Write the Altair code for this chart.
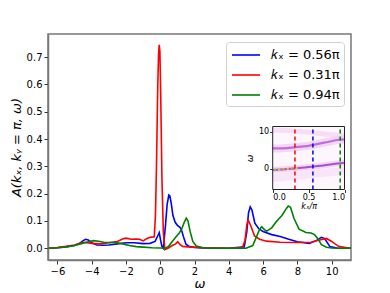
import altair as alt
import pandas as pd

# ---------------- main spectra ----------------
labels = ["𝑘ₓ = 0.56π", "𝑘ₓ = 0.31π", "𝑘ₓ = 0.94π"]
colors = ["#0000ff", "#ff0000", "#008000"]

w_blue = [-6.5, -6.0, -5.5, -5.0, -4.7, -4.5, -4.35, -4.2, -4.0, -3.7, -3.3, -3.0, -2.5, -2.0, -1.5, -1.0,
          -0.6, -0.3, -0.15, -0.06, 0.02, 0.1, 0.18, 0.3, 0.4, 0.5, 0.56, 0.64, 0.74, 0.87, 1.0, 1.15, 1.25,
          1.35, 1.5, 1.7, 2.0, 2.5, 3.0, 4.0, 4.9, 5.05, 5.15, 5.25, 5.35, 5.52, 5.75, 6.0, 6.5, 7.0, 7.5,
          8.0, 8.7, 9.1, 9.4, 9.6, 9.9, 10.3, 11.2]
A_blue = [0.0, 0.002, 0.005, 0.01, 0.018, 0.028, 0.033, 0.03, 0.02, 0.012, 0.011, 0.012, 0.016, 0.02, 0.02,
          0.017, 0.018, 0.025, 0.045, 0.057, 0.03, 0.006, 0.0, 0.08, 0.16, 0.195, 0.192, 0.165, 0.12, 0.095,
          0.084, 0.077, 0.065, 0.043, 0.015, 0.006, 0.003, 0.001, 0.001, 0.0, 0.005, 0.06, 0.13, 0.152, 0.14,
          0.092, 0.072, 0.061, 0.05, 0.043, 0.033, 0.024, 0.018, 0.028, 0.04, 0.035, 0.006, 0.001, 0.0]

w_red = [-6.5, -6.0, -5.5, -5.0, -4.5, -4.0, -3.5, -3.0, -2.5, -2.2, -2.0, -1.7, -1.4, -1.2, -1.0, -0.8,
         -0.6, -0.35, -0.28, -0.22, -0.15, -0.1, -0.06, -0.02, 0.03, 0.1, 0.18, 0.27, 0.45, 0.7, 0.9, 1.02,
         1.15, 1.3, 1.6, 2.0, 2.5, 3.0, 4.0, 4.8, 4.95, 5.05, 5.13, 5.3, 5.5, 5.8, 6.2, 7.0, 8.0, 8.8, 9.3,
         9.7, 10.0, 10.4, 11.0, 11.2]
A_red = [0.0, 0.003, 0.007, 0.012, 0.022, 0.018, 0.016, 0.02, 0.025, 0.034, 0.037, 0.033, 0.034, 0.033,
         0.027, 0.035, 0.04, 0.042, 0.12, 0.3, 0.58, 0.71, 0.745, 0.72, 0.55, 0.25, 0.06, -0.005, 0.0, 0.01,
         0.016, 0.024, 0.014, 0.007, 0.005, 0.004, 0.002, 0.001, 0.0, 0.003, 0.03, 0.085, 0.104, 0.08,
         0.045, 0.033, 0.026, 0.022, 0.021, 0.022, 0.03, 0.036, 0.025, 0.007, 0.001, 0.0]

w_green = [-6.5, -6.0, -5.5, -5.0, -4.6, -4.2, -3.9, -3.6, -3.3, -3.0, -2.6, -2.2, -1.8, -1.4, -1.0, -0.5,
           0.0, 0.3, 0.5, 0.7, 0.9, 1.1, 1.25, 1.4, 1.52, 1.62, 1.75, 1.9, 2.1, 2.5, 3.0, 4.0, 5.0, 5.4,
           5.6, 5.8, 5.92, 6.05, 6.2, 6.5, 6.8, 7.1, 7.35, 7.47, 7.6, 7.8, 8.1, 8.5, 8.8, 9.0, 9.2, 9.4,
           9.7, 10.0, 10.5, 11.2]
A_green = [0.0, 0.002, 0.005, 0.01, 0.017, 0.024, 0.028, 0.026, 0.022, 0.021, 0.021, 0.016, 0.01, 0.006,
           0.004, 0.002, 0.001, 0.0, 0.008, 0.025, 0.04, 0.055, 0.07, 0.095, 0.11, 0.1, 0.06, 0.025, 0.008,
           0.002, 0.0, 0.0, 0.0, 0.01, 0.04, 0.07, 0.079, 0.07, 0.062, 0.075, 0.1, 0.12, 0.145, 0.155, 0.15,
           0.11, 0.07, 0.058, 0.056, 0.05, 0.035, 0.013, 0.004, 0.001, 0.0, 0.0]

x_ticks = [-6, -4, -2, 0, 2, 4, 6, 8, 10]
y_ticks = [0.0, 0.1, 0.2, 0.3, 0.4, 0.5, 0.6, 0.7]

# ---------------- inset (spectral map) ----------------
kx_grid = [0.0, 0.1, 0.2, 0.3, 0.4, 0.5, 0.6, 0.7, 0.8, 0.9, 1.0]
band_low = [-0.4, -0.3, -0.15, 0.0, 0.2, 0.4, 0.6, 0.85, 1.1, 1.35, 1.6]
band_high = [5.5, 5.5, 5.6, 5.8, 6.0, 6.2, 6.6, 7.0, 7.4, 7.8, 8.0]
band_top = [10.5, 10.5, 10.4, 10.3, 10.1, 9.9, 9.7, 9.5, 9.3, 9.1, 9.0]
band_under = [-2.6, -2.4, -2.2, -2.0, -1.8, -1.6, -1.4, -1.2, -1.0, -0.8, -0.6]
spot_kx = [0.03, 0.09, 0.15, 0.21, 0.27, 0.33]
spot_w = [-0.35, -0.3, -0.2, -0.1, 0.0, 0.05]
spot_col = ["#7fd040", "#c0e040", "#f0a030", "#e0d040", "#f09030", "#d0e050"]
cut_kx = [0.31, 0.56, 0.94]
cut_col = ["#ff0000", "#0000ff", "#008000"]
inset_kx_dom = [0.0, 1.0]
inset_w_dom = [-5.75, 11.5]

font = "DejaVu Sans"

rows = []
for lab, ws, As in zip(labels, [w_blue, w_red, w_green], [A_blue, A_red, A_green]):
    for w, a in zip(ws, As):
        rows.append({"w": w, "A": a, "series": lab})
df = pd.DataFrame(rows)

main = alt.Chart(df).mark_line(strokeWidth=1.6, clip=True).encode(
    x=alt.X("w:Q", scale=alt.Scale(domain=[-6.55, 11.13], nice=False, zero=False),
            axis=alt.Axis(values=x_ticks, format="d", title="ω", titleFontStyle="italic",
                          titleFontSize=13, titleFontWeight="normal", titlePadding=1)),
    y=alt.Y("A:Q", scale=alt.Scale(domain=[-0.043, 0.785], nice=False, zero=False),
            axis=alt.Axis(values=y_ticks, format=".1f", title="A(kₓ, kᵧ = π, ω)", titleFontStyle="italic",
                          titleFontSize=13, titleFontWeight="normal", titlePadding=3)),
    color=alt.Color("series:N", sort=labels,
                    scale=alt.Scale(domain=labels, range=colors),
                    legend=alt.Legend(orient="none", legendX=178, legendY=8, title=None,
                                      symbolType="M-1.75,0L1.75,0", symbolSize=256,
                                      symbolStrokeWidth=1.6, symbolOffset=7,
                                      labelFontSize=13, labelOffset=16, labelFont=font,
                                      fillColor="white", strokeColor="#d0d0d0", cornerRadius=3,
                                      padding=4, rowPadding=4)),
)

sx = alt.Scale(domain=inset_kx_dom, range=[224.7, 296.5], nice=False, zero=False)
sy = alt.Scale(domain=inset_w_dom, range=[155.5, 92.5], nice=False, zero=False)
ax_x = alt.Axis(orient="bottom", offset=-70.5, values=[0, 0.5, 1], format=".1f", labelFontSize=8,
                tickSize=3, domain=False, grid=False, title="kₓ/π", titleFontSize=8,
                titleFontStyle="italic", titleFontWeight="normal", titlePadding=1, labelPadding=1)
ax_y = alt.Axis(orient="left", offset=-224.7, values=[0, 10], format="d", labelFontSize=8,
                tickSize=3, domain=False, grid=False, title="ω", titleFontSize=9,
                titleFontStyle="italic", titleFontWeight="normal", titlePadding=4, labelPadding=1)

box_df = pd.DataFrame({"kx": [inset_kx_dom[0]], "kx2": [inset_kx_dom[1]],
                       "w": [inset_w_dom[0]], "w2": [inset_w_dom[1]]})


def ix():
    return alt.X("kx:Q", scale=sx, axis=ax_x)


def iy():
    return alt.Y("w:Q", scale=sy, axis=ax_y)


bg = alt.Chart(box_df).mark_rect(fill="#fdf7fd").encode(x=ix(), x2="kx2:Q", y=iy(), y2="w2:Q")


def band(vals, color, width, opacity):
    d = pd.DataFrame({"kx": kx_grid, "w": vals})
    return alt.Chart(d).mark_line(color=color, strokeWidth=width, opacity=opacity,
                                  interpolate="monotone", clip=True).encode(x=ix(), y=iy())


bands = [
    band(band_under, "#f6e0f6", 8, 0.8),
    band(band_top, "#f4d8f4", 5, 0.8),
    band(band_high, "#f0cdf0", 8, 0.8),
    band(band_low, "#f0cdf0", 6, 0.8),
    band(band_high, "#b45ad8", 2.2, 0.85),
    band(band_low, "#a040cc", 2.0, 0.9),
]

spots = alt.Chart(pd.DataFrame({"kx": spot_kx, "w": spot_w, "c": spot_col})).mark_circle(
    size=6, opacity=0.9).encode(x=ix(), y=iy(), fill=alt.Fill("c:N", scale=None))

rules = []
for k, c in zip(cut_kx, cut_col):
    d = pd.DataFrame({"kx": [k], "w": [inset_w_dom[0]], "w2": [inset_w_dom[1]]})
    rules.append(alt.Chart(d).mark_rule(color=c, strokeWidth=1.5, strokeDash=[4, 3]).encode(
        x=ix(), y=iy(), y2="w2:Q"))

frame = alt.Chart(box_df).mark_rect(filled=False, stroke="#222222", strokeWidth=1).encode(
    x=ix(), x2="kx2:Q", y=iy(), y2="w2:Q")

inset = alt.layer(bg, *bands, spots, *rules, frame)

chart = alt.layer(main, inset).resolve_scale(x="independent", y="independent").properties(
    width=303, height=226, padding={"left": 40, "top": 26, "right": 25, "bottom": 30},
    autosize=alt.AutoSizeParams(type="none"),
).configure(font=font).configure_axis(
    labelFontSize=10, labelColor="black", tickColor="#333333", tickSize=4, domainColor="#777777",
    domainWidth=1.5, grid=False, labelFont=font, titleFont=font, titleColor="black",
).configure_view(stroke="#777777", strokeWidth=1.5)

chart.save("out.html", embed_options={"renderer": "svg", "actions": False})
